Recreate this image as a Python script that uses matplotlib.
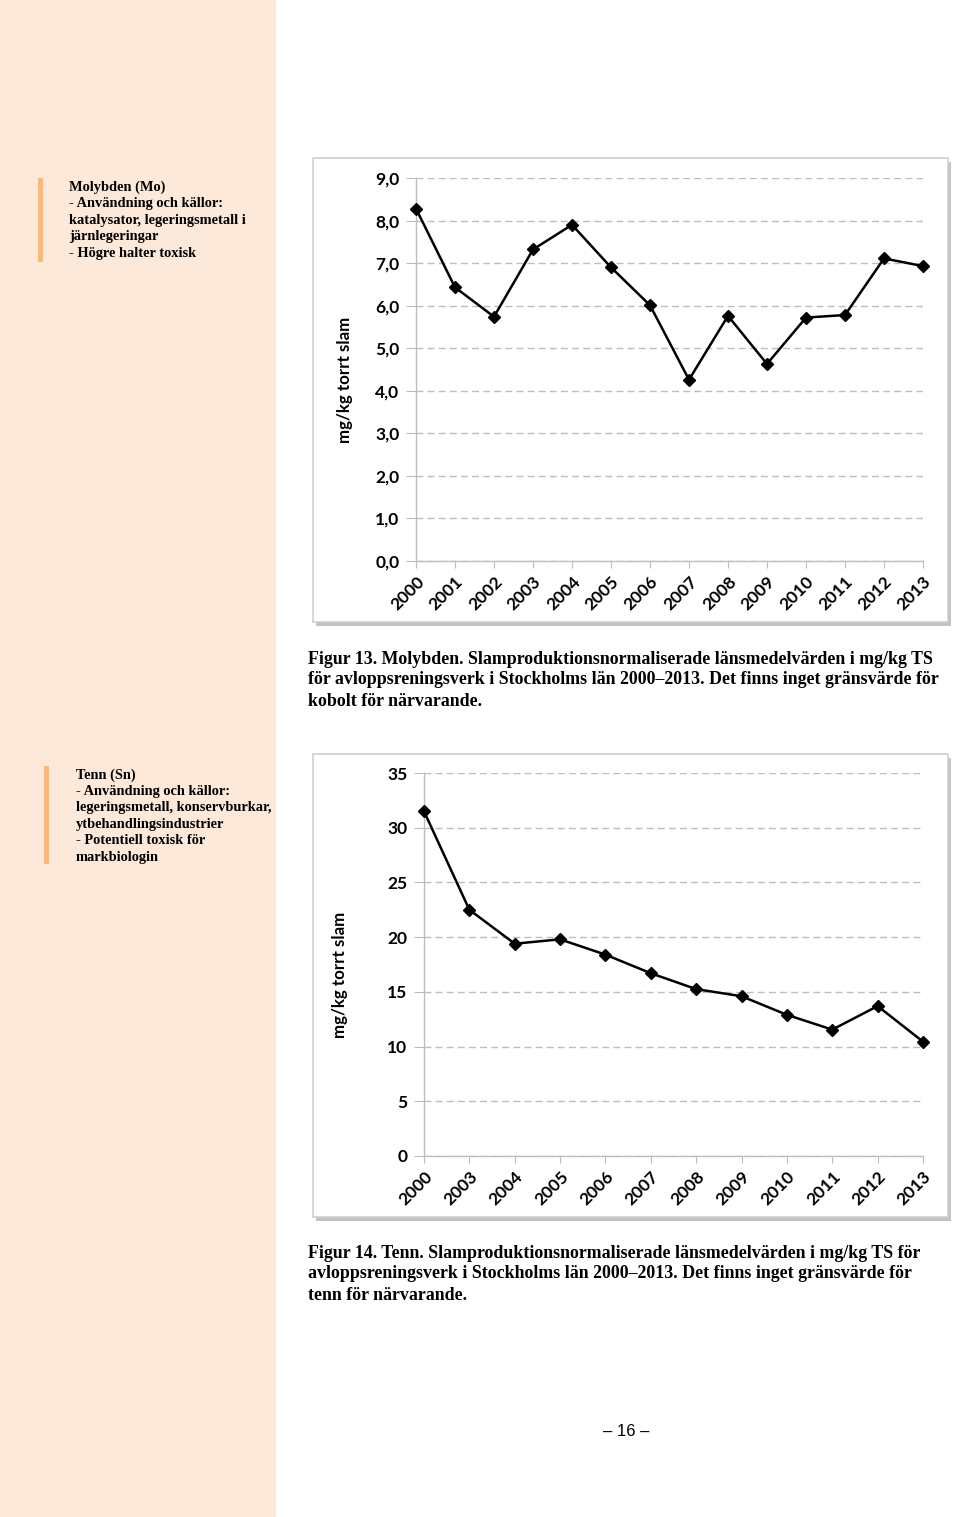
import matplotlib
matplotlib.use('Agg')
from matplotlib import pyplot as plt
from matplotlib.patches import Rectangle

# ---------------- data --------------------------------------
mo_years = ['2000', '2001', '2002', '2003', '2004', '2005', '2006',
            '2007', '2008', '2009', '2010', '2011', '2012', '2013']
mo_values = [8.28, 6.43, 5.74, 7.32, 7.90, 6.90, 6.01,
             4.26, 5.76, 4.63, 5.72, 5.78, 7.11, 6.93]
mo_ticks = [0, 1, 2, 3, 4, 5, 6, 7, 8, 9]
mo_ticklabels = ['0,0', '1,0', '2,0', '3,0', '4,0', '5,0', '6,0', '7,0', '8,0', '9,0']

sn_years = ['2000', '2003', '2004', '2005', '2006', '2007',
            '2008', '2009', '2010', '2011', '2012', '2013']
sn_values = [31.5, 22.5, 19.4, 19.8, 18.4, 16.7,
             15.25, 14.6, 12.9, 11.55, 13.7, 10.45]
sn_ticks = [0, 5, 10, 15, 20, 25, 30, 35]
sn_ticklabels = ['0', '5', '10', '15', '20', '25', '30', '35']

ylabel = 'mg/kg torrt slam'

mo_side = ['Molybden (Mo)', '- Användning och källor:',
           'katalysator, legeringsmetall i', 'järnlegeringar',
           '- Högre halter toxisk']
sn_side = ['Tenn (Sn)', '- Användning och källor:',
           'legeringsmetall, konservburkar,', 'ytbehandlingsindustrier',
           '- Potentiell toxisk för', 'markbiologin']

mo_caption = ['Figur 13. Molybden. Slamproduktionsnormaliserade länsmedelvärden i mg/kg TS',
              'för avloppsreningsverk i Stockholms län 2000–2013. Det finns inget gränsvärde för',
              'kobolt för närvarande.']
sn_caption = ['Figur 14. Tenn. Slamproduktionsnormaliserade länsmedelvärden i mg/kg TS för',
              'avloppsreningsverk i Stockholms län 2000–2013. Det finns inget gränsvärde för',
              'tenn för närvarande.']

W, H = 960, 1517
TICKFONT = 'Lato'
SERIF = 'Liberation Serif'


def fx(x):
    return x / W


def fy(y):
    return 1 - y / H


def add_box(fig, x0, y0, x1, y1):
    # chart frame with a small drop shadow
    fig.patches.append(Rectangle((fx(x0 + 3), fy(y1 + 4)), (x1 - x0) / W, (y1 - y0) / H,
                                 transform=fig.transFigure, facecolor='#9a9a9a',
                                 edgecolor='none', alpha=0.6, zorder=0))
    fig.patches.append(Rectangle((fx(x0), fy(y1)), (x1 - x0) / W, (y1 - y0) / H,
                                 transform=fig.transFigure, facecolor='white',
                                 edgecolor='#d0d0d0', lw=1.2, zorder=0.5))


def line_chart(fig, left, right, top, bottom, years, values, ticks, ticklabels):
    ax = fig.add_axes([fx(left), fy(bottom), (right - left) / W, (bottom - top) / H])
    ax.set_zorder(2)
    ax.set_facecolor('none')
    xs = list(range(len(years)))
    ax.plot(xs, values, color='black', lw=1.8, marker='D', markersize=6.5,
            markerfacecolor='black', markeredgecolor='black', clip_on=False, zorder=3)
    ax.set_xlim(0, len(years) - 1)
    ax.set_ylim(ticks[0], ticks[-1])
    ax.set_yticks(ticks)
    ax.set_yticklabels(ticklabels, fontfamily=TICKFONT, fontweight='bold', fontsize=12.5)
    ax.set_xticks(xs)
    ax.set_xticklabels(years, rotation=45, ha='right', rotation_mode='anchor',
                       fontfamily=TICKFONT, fontweight='bold', fontsize=12.5)
    ax.tick_params(axis='y', length=7, color='#bdbdbd', pad=5)
    ax.tick_params(axis='x', length=5, color='#bdbdbd', pad=4)
    ax.yaxis.grid(True, color='#bdbdbd', lw=1.0, ls=(0, (5, 3)))
    ax.set_axisbelow(True)
    for s in ['top', 'right']:
        ax.spines[s].set_visible(False)
    for s in ['left', 'bottom']:
        ax.spines[s].set_color('#bdbdbd')
        ax.spines[s].set_linewidth(1.0)
    return ax


fig = plt.figure(figsize=(W / 100, H / 100), dpi=100)
fig.patch.set_facecolor('white')

# side column
fig.patches.append(Rectangle((0, 0), fx(276), 1, transform=fig.transFigure,
                             facecolor='#fde9d9', edgecolor='none', zorder=0))
fig.patches.append(Rectangle((fx(38), fy(262)), 5 / W, (262 - 178) / H,
                             transform=fig.transFigure, facecolor='#f9b87c',
                             edgecolor='none', zorder=1))
fig.patches.append(Rectangle((fx(44), fy(864)), 5 / W, (864 - 766) / H,
                             transform=fig.transFigure, facecolor='#f9b87c',
                             edgecolor='none', zorder=1))

for i, s in enumerate(mo_side):
    fig.text(fx(69), fy(187 + i * 16.6), s, fontfamily=SERIF, fontweight='bold',
             fontsize=10.4, va='center', ha='left')
for i, s in enumerate(sn_side):
    fig.text(fx(76), fy(775 + i * 16.5), s, fontfamily=SERIF, fontweight='bold',
             fontsize=10.4, va='center', ha='left')

# chart 13 - molybden
add_box(fig, 313, 158, 948, 622)
ax1 = line_chart(fig, 416, 923, 178, 561, mo_years, mo_values, mo_ticks, mo_ticklabels)
fig.text(fx(345), fy(380), ylabel, rotation=90, fontfamily=TICKFONT, fontweight='bold',
         fontsize=12.2, va='center', ha='center', zorder=3)

# chart 14 - tenn
add_box(fig, 313, 754, 948, 1217)
ax2 = line_chart(fig, 424, 923, 773, 1156, sn_years, sn_values, sn_ticks, sn_ticklabels)
fig.text(fx(340), fy(975), ylabel, rotation=90, fontfamily=TICKFONT, fontweight='bold',
         fontsize=12.2, va='center', ha='center', zorder=3)

for i, s in enumerate(mo_caption):
    fig.text(fx(308), fy(659 + i * 21), s, fontfamily=SERIF, fontweight='bold',
             fontsize=12.9, va='center', ha='left')
for i, s in enumerate(sn_caption):
    fig.text(fx(308), fy(1253 + i * 21), s, fontfamily=SERIF, fontweight='bold',
             fontsize=12.9, va='center', ha='left')

fig.text(fx(626), fy(1432), '– 16 –', fontfamily='Liberation Sans', fontsize=12,
         va='center', ha='center')

fig.savefig('out.png', dpi=100)
